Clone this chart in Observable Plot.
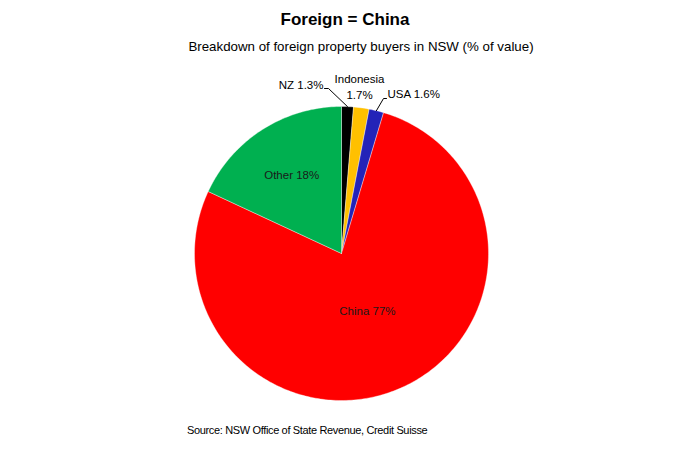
<!DOCTYPE html>
<html>
<head>
<meta charset="utf-8">
<script src="https://cdn.jsdelivr.net/npm/d3@7"></script>
<script src="https://cdn.jsdelivr.net/npm/@observablehq/plot@0.6"></script>
<style>
  html, body { margin: 0; padding: 0; background: #fff; }
  #wrap { position: relative; width: 696px; height: 463px; overflow: hidden; font-family: "Liberation Sans", Arial, sans-serif; color: #000; }
  #chart { position: absolute; left: 0; top: 0; }
  .t { position: absolute; white-space: nowrap; }
  #title { font-size: 17px; font-weight: bold; left: 245px; width: 200px; text-align: center; top: 10px; line-height: 20px; }
  #subtitle { font-size: 13.3px; left: 161px; width: 400px; text-align: center; top: 39px; line-height: 16px; }
  #source { font-size: 11px; letter-spacing: -0.35px; left: 187px; top: 423px; line-height: 14px; }
</style>
</head>
<body>
<div id="wrap">
  <div id="chart"></div>
  <div class="t" id="title">Foreign = China</div>
  <div class="t" id="subtitle">Breakdown of foreign property buyers in NSW (% of value)</div>
  <div class="t" id="source">Source: NSW Office of State Revenue, Credit Suisse</div>
</div>
<script>
// ---- data ----
const names = ["NZ", "Indonesia", "USA", "China", "Other"];
const shares = [1.3, 1.7, 1.6, 77, 18];
const colors = ["#000000", "#FFC000", "#2323B8", "#FF0000", "#00B050"];
const labels = ["NZ 1.3%", "Indonesia\n1.7%", "USA 1.6%", "China 77%", "Other 18%"];

// ---- layout (pixel geometry of the pie) ----
const cx = 341, cy = 253, R = 147;
const X = px => (px - cx) / R;
const Y = py => (cy - py) / R;

const arcs = d3.pie().sort(null).value(d => d)(shares);

// slice polygons
const slicePts = [];
arcs.forEach((a, i) => {
  const name = names[i];
  slicePts.push({name, x: 0, y: 0});
  const n = Math.max(4, Math.ceil((a.endAngle - a.startAngle) / (Math.PI / 180)));
  for (let k = 0; k <= n; k++) {
    const t = a.startAngle + (a.endAngle - a.startAngle) * k / n;
    slicePts.push({name, x: Math.sin(t), y: Math.cos(t)});
  }
  slicePts.push({name, x: 0, y: 0});
});

const mid = a => (a.startAngle + a.endAngle) / 2;

// inside labels
const insideR = {China: 0.43, Other: 0.63};
const inside = [];
arcs.forEach((a, i) => {
  if (insideR[names[i]] != null) {
    const m = mid(a), r = insideR[names[i]];
    inside.push({label: labels[i], x: Math.sin(m) * r, y: Math.cos(m) * r});
  }
});

// outside labels
const outside = [
  {name: "NZ", label: labels[0], x: X(323), y: Y(85), anchor: "end"},
  {name: "Indonesia", label: labels[1], x: X(359), y: Y(85), anchor: "middle"},
  {name: "USA", label: labels[2], x: X(387), y: Y(94), anchor: "start"}
];

// leader lines
const leaders = [];
const edge = i => { const m = mid(arcs[i]); return {x: Math.sin(m) * 1.0, y: Math.cos(m) * 1.0}; };
{
  const e = edge(0);
  leaders.push({g: "NZ", x: e.x, y: e.y}, {g: "NZ", x: X(328), y: Y(88)}, {g: "NZ", x: X(324), y: Y(88)});
  const u = edge(2);
  leaders.push({g: "USA", x: u.x, y: u.y}, {g: "USA", x: X(383), y: Y(98)}, {g: "USA", x: X(386), y: Y(98)});
}

const plot = Plot.plot({
  width: 696,
  height: 463,
  margin: 0,
  style: {fontFamily: "'Liberation Sans', Arial, sans-serif", background: "transparent"},
  x: {domain: [-1, 1], range: [cx - R, cx + R], axis: null},
  y: {domain: [-1, 1], range: [cy + R, cy - R], axis: null},
  color: {domain: names, range: colors},
  marks: [
    Plot.line(slicePts, {x: "x", y: "y", z: "name", fill: "name", stroke: "#ffffff", strokeWidth: 0.6, strokeOpacity: 0.6, curve: "linear"}),
    Plot.line(leaders, {x: "x", y: "y", z: "g", stroke: "#000", strokeWidth: 1}),
    Plot.text(inside, {x: "x", y: "y", text: "label", fontSize: 11.5, fill: "#1a1a1a"}),
    Plot.text(outside.filter(d => d.anchor === "end"), {x: "x", y: "y", text: "label", fontSize: 11.5, fill: "#000", textAnchor: "end"}),
    Plot.text(outside.filter(d => d.anchor === "middle"), {x: "x", y: "y", text: "label", fontSize: 11.5, fill: "#000", textAnchor: "middle", lineHeight: 1.45}),
    Plot.text(outside.filter(d => d.anchor === "start"), {x: "x", y: "y", text: "label", fontSize: 11.5, fill: "#000", textAnchor: "start"})
  ]
});
document.getElementById("chart").appendChild(plot);
</script>
</body>
</html>
